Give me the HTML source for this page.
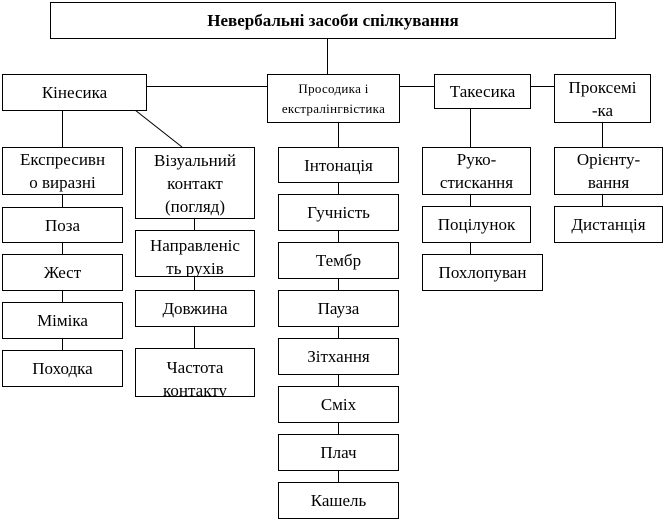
<!DOCTYPE html>
<html><head><meta charset="utf-8"><style>
body{margin:0;width:666px;height:522px;background:#fff;position:relative;overflow:hidden;font-family:"Liberation Serif",serif;}
.b{position:absolute;border:1px solid #000;box-sizing:border-box;background:#fff;text-align:center;font-size:17px;line-height:23px;overflow:hidden;display:flex;flex-direction:column;justify-content:center;}
.t{justify-content:flex-start;padding-top:1px;}
.l{position:absolute;background:#000;}
</style></head><body>
<div class="l" style="left:327px;top:38px;width:1px;height:36px"></div>
<div class="l" style="left:147px;top:86px;width:120px;height:1px"></div>
<div class="l" style="left:399px;top:86px;width:35px;height:1px"></div>
<div class="l" style="left:530px;top:86px;width:24px;height:1px"></div>
<div class="l" style="left:62px;top:110px;width:1px;height:240px"></div>
<div class="l" style="left:194px;top:218px;width:1px;height:130px"></div>
<div class="l" style="left:338px;top:122px;width:1px;height:360px"></div>
<div class="l" style="left:470px;top:108px;width:1px;height:146px"></div>
<div class="l" style="left:602px;top:122px;width:1px;height:84px"></div>
<svg style="position:absolute;left:0;top:0" width="666" height="522"><line x1="135" y1="110" x2="182" y2="147" stroke="#000" stroke-width="1"/></svg>

<div class="b" style="left:50px;top:2px;width:566px;height:37px;font-weight:bold">Невербальні засоби спілкування</div>
<div class="b" style="left:2px;top:74px;width:145px;height:37px">Кінесика</div>
<div class="b" style="left:267px;top:74px;width:133px;height:49px;font-size:13px;line-height:20px;letter-spacing:0.3px">Просодика і<br>екстралінгвістика</div>
<div class="b" style="left:434px;top:74px;width:97px;height:35px">Такесика</div>
<div class="b" style="left:554px;top:74px;width:97px;height:49px">Проксемі<br>-ка</div>

<div class="b" style="left:2px;top:147px;width:121px;height:48px">Експресивн<br>о виразні</div>
<div class="b" style="left:2px;top:207px;width:121px;height:36px">Поза</div>
<div class="b" style="left:2px;top:254px;width:121px;height:37px">Жест</div>
<div class="b" style="left:2px;top:302px;width:121px;height:37px">Міміка</div>
<div class="b" style="left:2px;top:350px;width:121px;height:37px">Походка</div>

<div class="b" style="left:135px;top:147px;width:120px;height:72px">Візуальний<br>контакт<br>(погляд)</div>
<div class="b t" style="left:135px;top:230px;width:120px;height:47px;padding-top:3px">Направленіс<br>ть рухів</div>
<div class="b" style="left:135px;top:290px;width:120px;height:37px">Довжина</div>
<div class="b t" style="left:135px;top:348px;width:120px;height:49px;padding-top:7px">Частота<br>контакту</div>

<div class="b" style="left:278px;top:147px;width:121px;height:36px">Інтонація</div>
<div class="b" style="left:278px;top:194px;width:121px;height:37px">Гучність</div>
<div class="b" style="left:278px;top:242px;width:121px;height:37px">Тембр</div>
<div class="b" style="left:278px;top:290px;width:121px;height:37px">Пауза</div>
<div class="b" style="left:278px;top:338px;width:121px;height:37px">Зітхання</div>
<div class="b" style="left:278px;top:386px;width:121px;height:37px">Сміх</div>
<div class="b" style="left:278px;top:434px;width:121px;height:37px">Плач</div>
<div class="b" style="left:278px;top:482px;width:121px;height:37px">Кашель</div>

<div class="b" style="left:422px;top:147px;width:109px;height:48px">Руко-<br>стискання</div>
<div class="b" style="left:422px;top:206px;width:109px;height:37px">Поцілунок</div>
<div class="b" style="left:422px;top:254px;width:121px;height:37px">Похлопуван</div>

<div class="b" style="left:554px;top:147px;width:109px;height:48px">Орієнту-<br>вання</div>
<div class="b" style="left:554px;top:206px;width:109px;height:37px">Дистанція</div>
</body></html>
